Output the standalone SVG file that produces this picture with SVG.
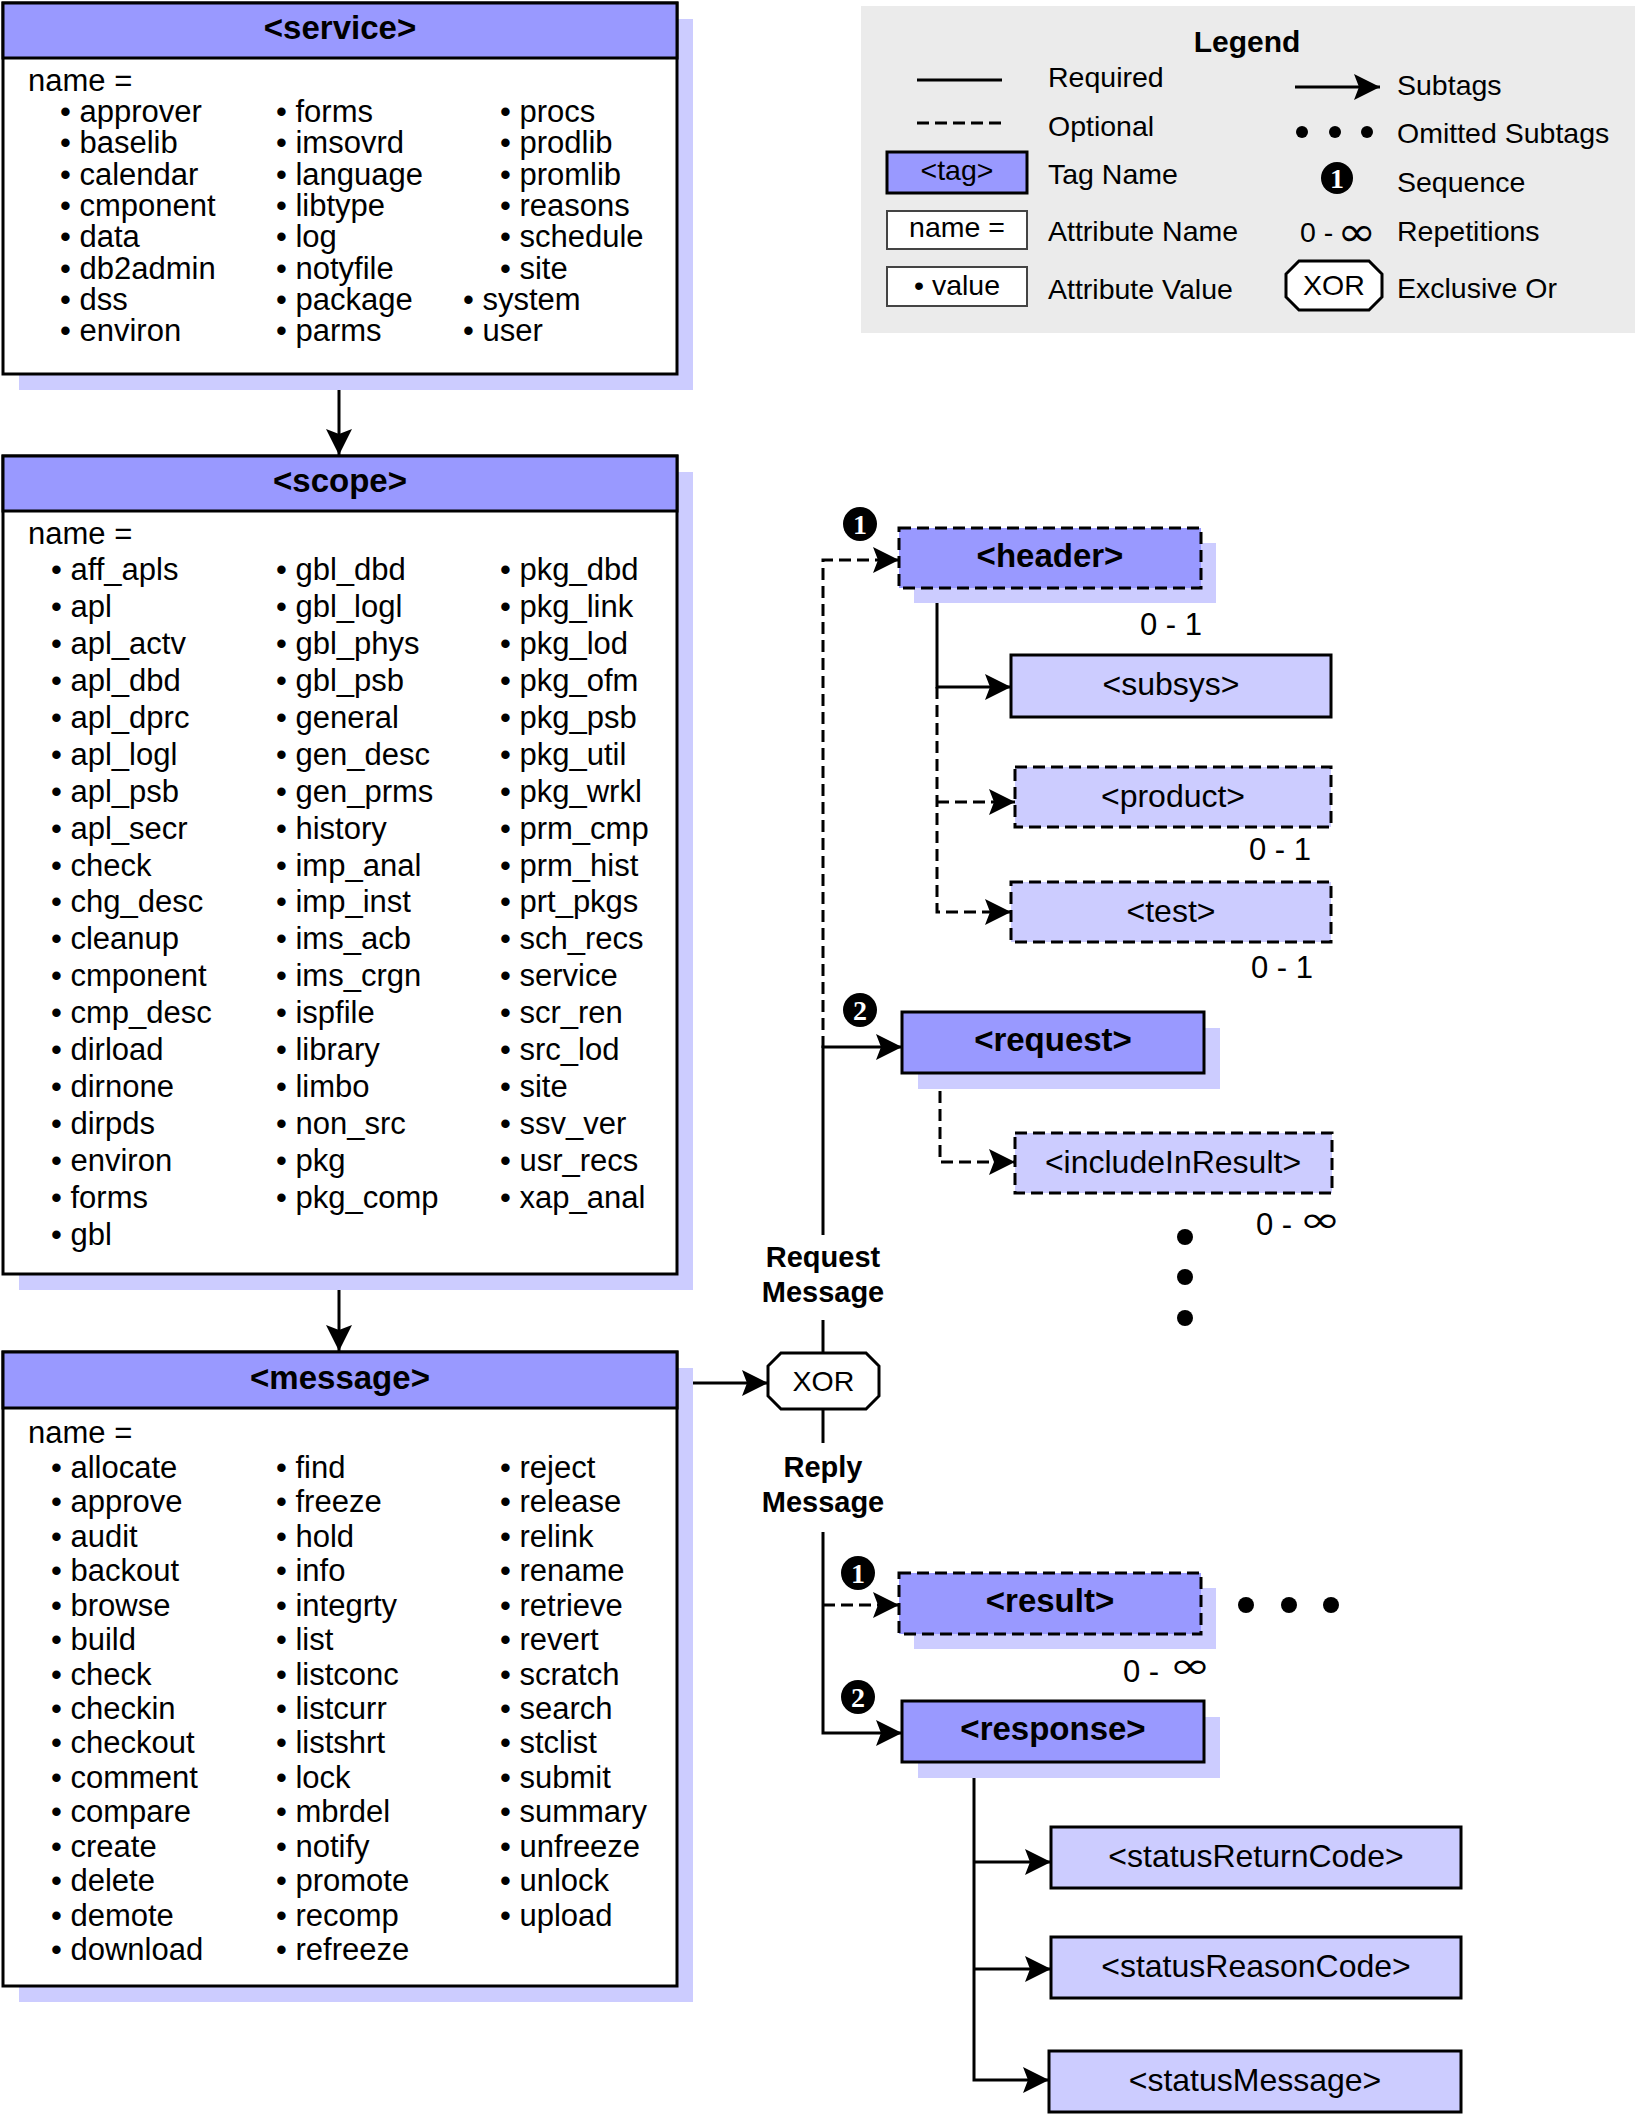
<svg xmlns="http://www.w3.org/2000/svg" width="1635" height="2114" viewBox="0 0 1635 2114">
<defs>
<style>
text{font-family:"Liberation Sans",Arial,sans-serif;fill:#000}
.it{font-size:31px}
.title{font-size:33px;font-weight:bold;text-anchor:middle}
.lbl{font-size:32px;text-anchor:middle}
.lg{font-size:28.5px}
.lgc{font-size:28.5px;text-anchor:middle}
.msg{font-size:29px;font-weight:bold;text-anchor:middle}
.rep{font-size:31px}
.inf{font-family:"DejaVu Sans",sans-serif;font-size:36px;text-anchor:middle}
.ln{stroke:#000;stroke-width:3;fill:none}
.dash{stroke-dasharray:12 6}
.box{stroke:#000;stroke-width:3}
.dark{fill:#9999ff}
.light{fill:#ccccff}
.sh{fill:#ccccff}
.bnum{font-family:"Liberation Serif",serif;font-weight:bold;font-size:28px;fill:#fff;text-anchor:middle}
</style>
<marker id="arr" markerUnits="userSpaceOnUse" markerWidth="26" markerHeight="26" viewBox="0 0 26 26" refX="26" refY="13" orient="auto">
<path d="M0,0 L26,13 L0,26 L5,13 z" fill="#000"/>
</marker>
</defs>
<rect width="1635" height="2114" fill="#fff"/>

<g id="legend">
<rect x="861" y="6" width="774" height="327" fill="#ebebeb"/>
<text x="1247" y="52" style="font-size:30px;font-weight:bold;text-anchor:middle">Legend</text>
<line class="ln" x1="917" y1="80" x2="1002" y2="80"/>
<line class="ln dash" x1="917" y1="123" x2="1002" y2="123"/>
<rect x="887" y="152" width="140" height="41" class="dark box"/>
<text class="lgc" x="957" y="180">&lt;tag&gt;</text>
<rect x="887" y="211" width="140" height="38" fill="#fff" stroke="#444" stroke-width="2"/>
<text class="lgc" x="957" y="237">name =</text>
<rect x="887" y="267" width="140" height="39" fill="#fff" stroke="#444" stroke-width="2"/>
<text class="lgc" x="957" y="295">• value</text>
<text class="lg" x="1048" y="87">Required</text>
<text class="lg" x="1048" y="136">Optional</text>
<text class="lg" x="1048" y="184">Tag Name</text>
<text class="lg" x="1048" y="241">Attribute Name</text>
<text class="lg" x="1048" y="299">Attribute Value</text>
<line class="ln" x1="1295" y1="87" x2="1380" y2="87" marker-end="url(#arr)"/>
<circle cx="1302" cy="132" r="6"/>
<circle cx="1335" cy="132" r="6"/>
<circle cx="1367" cy="132" r="6"/>
<circle cx="1337" cy="178" r="16"/>
<text class="bnum" x="1337" y="188">1</text>
<text class="lg" x="1300" y="242">0 -</text>
<text class="inf" transform="translate(1357,246) scale(1.3,1.15)">∞</text>
<polygon points="1299,261 1369,261 1382,274 1382,297 1369,310 1299,310 1286,297 1286,274" fill="#fff" class="box"/>
<text class="lgc" x="1334" y="295">XOR</text>
<text class="lg" x="1397" y="95">Subtags</text>
<text class="lg" x="1397" y="143">Omitted Subtags</text>
<text class="lg" x="1397" y="192">Sequence</text>
<text class="lg" x="1397" y="241">Repetitions</text>
<text class="lg" x="1397" y="298">Exclusive Or</text>
</g>

<g id="connectors">
<path class="ln" d="M339,374 V455" marker-end="url(#arr)"/>
<path class="ln" d="M339,1274 V1351" marker-end="url(#arr)"/>
<path class="ln" d="M677,1383 H768" marker-end="url(#arr)"/>
<path class="ln dash" d="M823,1048 V560 H899" marker-end="url(#arr)"/>
<path class="ln" d="M823,1320 V1353"/>
<path class="ln" d="M823,1235 V1047 H902" marker-end="url(#arr)"/>
<path class="ln" d="M823,1409 V1443"/>
<path class="ln" d="M823,1532 V1733 H902" marker-end="url(#arr)"/>
<path class="ln dash" d="M823,1605 H899" marker-end="url(#arr)"/>
<path class="ln" d="M937,588 V687 H1011" marker-end="url(#arr)"/>
<path class="ln dash" d="M937,687 V912 H1011" marker-end="url(#arr)"/>
<path class="ln dash" d="M937,802 H1015" marker-end="url(#arr)"/>
<path class="ln dash" d="M940,1073 V1162 H1015" marker-end="url(#arr)"/>
<path class="ln" d="M974,1762 V2080 H1049" marker-end="url(#arr)"/>
<path class="ln" d="M974,1862 H1051" marker-end="url(#arr)"/>
<path class="ln" d="M974,1969 H1051" marker-end="url(#arr)"/>
</g>

<g id="service">
<rect x="19" y="19" width="674" height="371" class="sh"/>
<rect x="3" y="3" width="674" height="371" fill="#fff" class="box"/>
<rect x="3" y="3" width="674" height="55" class="dark box"/>
<text class="title" x="340" y="39">&lt;service&gt;</text>
<text class="it" x="28" y="91">name =</text>
<text class="it" x="60" y="122">• approver<tspan x="60" dy="31.3">• baselib</tspan><tspan x="60" dy="31.3">• calendar</tspan><tspan x="60" dy="31.3">• cmponent</tspan><tspan x="60" dy="31.3">• data</tspan><tspan x="60" dy="31.3">• db2admin</tspan><tspan x="60" dy="31.3">• dss</tspan><tspan x="60" dy="31.3">• environ</tspan></text>
<text class="it" x="276" y="122">• forms<tspan x="276" dy="31.3">• imsovrd</tspan><tspan x="276" dy="31.3">• language</tspan><tspan x="276" dy="31.3">• libtype</tspan><tspan x="276" dy="31.3">• log</tspan><tspan x="276" dy="31.3">• notyfile</tspan><tspan x="276" dy="31.3">• package</tspan><tspan x="276" dy="31.3">• parms</tspan></text>
<text class="it" x="500" y="122">• procs<tspan x="500" dy="31.3">• prodlib</tspan><tspan x="500" dy="31.3">• promlib</tspan><tspan x="500" dy="31.3">• reasons</tspan><tspan x="500" dy="31.3">• schedule</tspan><tspan x="500" dy="31.3">• site</tspan><tspan x="463" dy="31.3">• system</tspan><tspan x="463" dy="31.3">• user</tspan></text>
</g>

<g id="scope">
<rect x="19" y="472" width="674" height="818" class="sh"/>
<rect x="3" y="456" width="674" height="818" fill="#fff" class="box"/>
<rect x="3" y="456" width="674" height="55" class="dark box"/>
<text class="title" x="340" y="492">&lt;scope&gt;</text>
<text class="it" x="28" y="544">name =</text>
<text class="it" x="51" y="580">• aff_apls<tspan x="51" dy="36.94">• apl</tspan><tspan x="51" dy="36.94">• apl_actv</tspan><tspan x="51" dy="36.94">• apl_dbd</tspan><tspan x="51" dy="36.94">• apl_dprc</tspan><tspan x="51" dy="36.94">• apl_logl</tspan><tspan x="51" dy="36.94">• apl_psb</tspan><tspan x="51" dy="36.94">• apl_secr</tspan><tspan x="51" dy="36.94">• check</tspan><tspan x="51" dy="36.94">• chg_desc</tspan><tspan x="51" dy="36.94">• cleanup</tspan><tspan x="51" dy="36.94">• cmponent</tspan><tspan x="51" dy="36.94">• cmp_desc</tspan><tspan x="51" dy="36.94">• dirload</tspan><tspan x="51" dy="36.94">• dirnone</tspan><tspan x="51" dy="36.94">• dirpds</tspan><tspan x="51" dy="36.94">• environ</tspan><tspan x="51" dy="36.94">• forms</tspan><tspan x="51" dy="36.94">• gbl</tspan></text>
<text class="it" x="276" y="580">• gbl_dbd<tspan x="276" dy="36.94">• gbl_logl</tspan><tspan x="276" dy="36.94">• gbl_phys</tspan><tspan x="276" dy="36.94">• gbl_psb</tspan><tspan x="276" dy="36.94">• general</tspan><tspan x="276" dy="36.94">• gen_desc</tspan><tspan x="276" dy="36.94">• gen_prms</tspan><tspan x="276" dy="36.94">• history</tspan><tspan x="276" dy="36.94">• imp_anal</tspan><tspan x="276" dy="36.94">• imp_inst</tspan><tspan x="276" dy="36.94">• ims_acb</tspan><tspan x="276" dy="36.94">• ims_crgn</tspan><tspan x="276" dy="36.94">• ispfile</tspan><tspan x="276" dy="36.94">• library</tspan><tspan x="276" dy="36.94">• limbo</tspan><tspan x="276" dy="36.94">• non_src</tspan><tspan x="276" dy="36.94">• pkg</tspan><tspan x="276" dy="36.94">• pkg_comp</tspan></text>
<text class="it" x="500" y="580">• pkg_dbd<tspan x="500" dy="36.94">• pkg_link</tspan><tspan x="500" dy="36.94">• pkg_lod</tspan><tspan x="500" dy="36.94">• pkg_ofm</tspan><tspan x="500" dy="36.94">• pkg_psb</tspan><tspan x="500" dy="36.94">• pkg_util</tspan><tspan x="500" dy="36.94">• pkg_wrkl</tspan><tspan x="500" dy="36.94">• prm_cmp</tspan><tspan x="500" dy="36.94">• prm_hist</tspan><tspan x="500" dy="36.94">• prt_pkgs</tspan><tspan x="500" dy="36.94">• sch_recs</tspan><tspan x="500" dy="36.94">• service</tspan><tspan x="500" dy="36.94">• scr_ren</tspan><tspan x="500" dy="36.94">• src_lod</tspan><tspan x="500" dy="36.94">• site</tspan><tspan x="500" dy="36.94">• ssv_ver</tspan><tspan x="500" dy="36.94">• usr_recs</tspan><tspan x="500" dy="36.94">• xap_anal</tspan></text>
</g>

<g id="message">
<rect x="19" y="1368" width="674" height="634" class="sh"/>
<rect x="3" y="1352" width="674" height="634" fill="#fff" class="box"/>
<rect x="3" y="1352" width="674" height="56" class="dark box"/>
<text class="title" x="340" y="1389">&lt;message&gt;</text>
<text class="it" x="28" y="1443">name =</text>
<text class="it" x="51" y="1478">• allocate<tspan x="51" dy="34.43">• approve</tspan><tspan x="51" dy="34.43">• audit</tspan><tspan x="51" dy="34.43">• backout</tspan><tspan x="51" dy="34.43">• browse</tspan><tspan x="51" dy="34.43">• build</tspan><tspan x="51" dy="34.43">• check</tspan><tspan x="51" dy="34.43">• checkin</tspan><tspan x="51" dy="34.43">• checkout</tspan><tspan x="51" dy="34.43">• comment</tspan><tspan x="51" dy="34.43">• compare</tspan><tspan x="51" dy="34.43">• create</tspan><tspan x="51" dy="34.43">• delete</tspan><tspan x="51" dy="34.43">• demote</tspan><tspan x="51" dy="34.43">• download</tspan></text>
<text class="it" x="276" y="1478">• find<tspan x="276" dy="34.43">• freeze</tspan><tspan x="276" dy="34.43">• hold</tspan><tspan x="276" dy="34.43">• info</tspan><tspan x="276" dy="34.43">• integrty</tspan><tspan x="276" dy="34.43">• list</tspan><tspan x="276" dy="34.43">• listconc</tspan><tspan x="276" dy="34.43">• listcurr</tspan><tspan x="276" dy="34.43">• listshrt</tspan><tspan x="276" dy="34.43">• lock</tspan><tspan x="276" dy="34.43">• mbrdel</tspan><tspan x="276" dy="34.43">• notify</tspan><tspan x="276" dy="34.43">• promote</tspan><tspan x="276" dy="34.43">• recomp</tspan><tspan x="276" dy="34.43">• refreeze</tspan></text>
<text class="it" x="500" y="1478">• reject<tspan x="500" dy="34.43">• release</tspan><tspan x="500" dy="34.43">• relink</tspan><tspan x="500" dy="34.43">• rename</tspan><tspan x="500" dy="34.43">• retrieve</tspan><tspan x="500" dy="34.43">• revert</tspan><tspan x="500" dy="34.43">• scratch</tspan><tspan x="500" dy="34.43">• search</tspan><tspan x="500" dy="34.43">• stclist</tspan><tspan x="500" dy="34.43">• submit</tspan><tspan x="500" dy="34.43">• summary</tspan><tspan x="500" dy="34.43">• unfreeze</tspan><tspan x="500" dy="34.43">• unlock</tspan><tspan x="500" dy="34.43">• upload</tspan></text>
</g>

<g id="xor">
<polygon points="781,1353 866,1353 879,1366 879,1396 866,1409 781,1409 768,1396 768,1366" fill="#fff" class="box"/>
<text class="lgc" x="823.5" y="1391">XOR</text>
</g>

<g id="request-message-label">
<text class="msg" x="823" y="1267">Request</text>
<text class="msg" x="823" y="1302">Message</text>
</g>
<g id="reply-message-label">
<text class="msg" x="823" y="1477">Reply</text>
<text class="msg" x="823" y="1512">Message</text>
</g>

<g id="header">
<rect x="914" y="543" width="302" height="60" class="sh"/>
<rect x="899" y="528" width="302" height="60" class="dark box dash"/>
<text class="title" x="1050" y="567">&lt;header&gt;</text>
<text class="rep" x="1202" y="635" text-anchor="end">0 - 1</text>
<circle cx="860" cy="524" r="17"/>
<text class="bnum" x="860" y="534">1</text>
</g>

<g id="subsys">
<rect x="1011" y="655" width="320" height="62" class="light box"/>
<text class="lbl" x="1171" y="695">&lt;subsys&gt;</text>
</g>

<g id="product">
<rect x="1015" y="767" width="316" height="60" class="light box dash"/>
<text class="lbl" x="1173" y="807">&lt;product&gt;</text>
<text class="rep" x="1311" y="860" text-anchor="end">0 - 1</text>
</g>

<g id="test">
<rect x="1011" y="882" width="320" height="60" class="light box dash"/>
<text class="lbl" x="1171" y="922">&lt;test&gt;</text>
<text class="rep" x="1313" y="978" text-anchor="end">0 - 1</text>
</g>

<g id="request">
<rect x="918" y="1028" width="302" height="61" class="sh"/>
<rect x="902" y="1012" width="302" height="61" class="dark box"/>
<text class="title" x="1053" y="1051">&lt;request&gt;</text>
<circle cx="860" cy="1010" r="17"/>
<text class="bnum" x="860" y="1020">2</text>
</g>

<g id="includeInResult">
<rect x="1015" y="1133" width="317" height="60" class="light box dash"/>
<text class="lbl" x="1173" y="1173">&lt;includeInResult&gt;</text>
<text class="rep" x="1256" y="1235">0 -</text>
<text class="inf" transform="translate(1320,1232) scale(1.4,1)">∞</text>
<circle cx="1185" cy="1237" r="8"/>
<circle cx="1185" cy="1277" r="8"/>
<circle cx="1185" cy="1318" r="8"/>
</g>

<g id="result">
<rect x="914" y="1588" width="302" height="61" class="sh"/>
<rect x="899" y="1573" width="302" height="61" class="dark box dash"/>
<text class="title" x="1050" y="1612">&lt;result&gt;</text>
<circle cx="858" cy="1573" r="17"/>
<text class="bnum" x="858" y="1583">1</text>
<circle cx="1246" cy="1605" r="8"/>
<circle cx="1289" cy="1605" r="8"/>
<circle cx="1331" cy="1605" r="8"/>
<text class="rep" x="1123" y="1682">0 -</text>
<text class="inf" transform="translate(1190,1678) scale(1.4,1)">∞</text>
</g>

<g id="response">
<rect x="918" y="1717" width="302" height="61" class="sh"/>
<rect x="902" y="1701" width="302" height="61" class="dark box"/>
<text class="title" x="1053" y="1740">&lt;response&gt;</text>
<circle cx="858" cy="1697" r="17"/>
<text class="bnum" x="858" y="1707">2</text>
</g>

<g id="statusReturnCode">
<rect x="1051" y="1827" width="410" height="61" class="light box"/>
<text class="lbl" x="1256" y="1867">&lt;statusReturnCode&gt;</text>
</g>
<g id="statusReasonCode">
<rect x="1051" y="1937" width="410" height="61" class="light box"/>
<text class="lbl" x="1256" y="1977">&lt;statusReasonCode&gt;</text>
</g>
<g id="statusMessage">
<rect x="1049" y="2051" width="412" height="61" class="light box"/>
<text class="lbl" x="1255" y="2091">&lt;statusMessage&gt;</text>
</g>
</svg>
